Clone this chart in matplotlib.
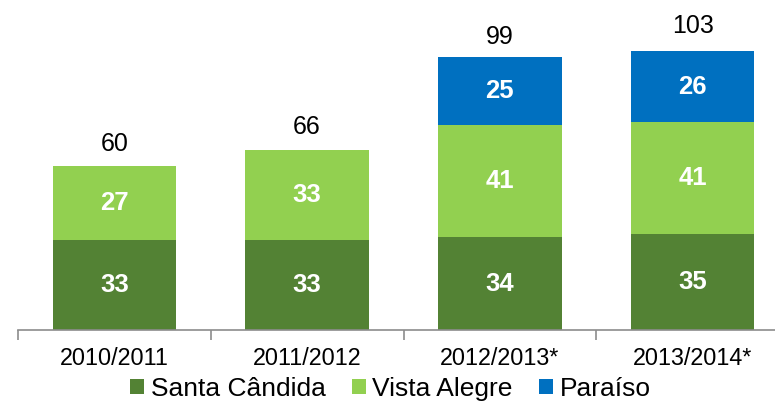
import numpy as np
import matplotlib.pyplot as plt

plt.rcParams['font.family'] = ['Liberation Sans', 'DejaVu Sans']

# data
categories = ['2010/2011', '2011/2012', '2012/2013*', '2013/2014*']
santa_candida = [33, 33, 34, 35]
vista_alegre = [27, 33, 41, 41]
paraiso = [0, 0, 25, 26]
totals = [60, 66, 99, 103]

series = [('Santa Cândida', santa_candida, '#538234'),
          ('Vista Alegre', vista_alegre, '#92D050'),
          ('Paraíso', paraiso, '#0070C0')]

fig = plt.figure(figsize=(7.75, 4.03), dpi=100)
ax = fig.add_axes([18/775, 73/403, 771/775, 328/403])

x = np.arange(len(categories))
bottom = np.zeros(len(categories))
for name, vals, col in series:
    vals = np.array(vals, dtype=float)
    ax.bar(x, vals, width=0.64, bottom=bottom, color=col, label=name)
    for xi, b, v in zip(x, bottom, vals):
        if v > 0:
            ax.text(xi, b + v / 2, str(int(v)), ha='center', va='center',
                    color='white', fontsize=18.5, fontweight='bold')
    bottom += vals

for xi, t in zip(x, totals):
    ax.text(xi, t + 3.8, str(t), ha='center', va='bottom', fontsize=18, color='black')

ax.set_xlim(-0.5, 3.5)
ax.set_ylim(0, 120)
ax.set_yticks([])
for s in ['top', 'right', 'left']:
    ax.spines[s].set_visible(False)
ax.spines['bottom'].set_color('#8c8c8c')
ax.spines['bottom'].set_linewidth(1.2)

ax.set_xticks(x)
ax.set_xticklabels(categories, fontsize=16.8)
ax.tick_params(axis='x', length=0, pad=12)
ax.set_xticks(np.arange(-0.5, 4.0, 1.0), minor=True)
ax.tick_params(axis='x', which='minor', length=7, width=1.2, color='#8c8c8c')

ax.legend(loc='center', bbox_to_anchor=(0.483, -0.18), ncol=3, frameon=False,
          fontsize=19, handlelength=0.53, handleheight=0.53, handletextpad=0.25,
          columnspacing=1.0, borderaxespad=0, borderpad=0)

fig.savefig('out.png', dpi=100)
